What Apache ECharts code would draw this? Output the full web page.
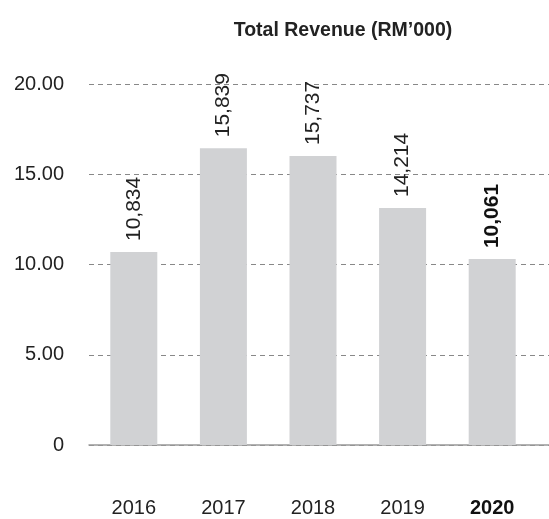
<!DOCTYPE html>
<html>
<head>
<meta charset="utf-8">
<script src="https://cdn.jsdelivr.net/npm/echarts@6/dist/echarts.min.js"></script>
<style>
  html, body { margin: 0; padding: 0; background: #fff; }
  #container { width: 549px; height: 519px; }
</style>
</head>
<body>
<div id="container"></div>
<script>
/* data */
var years = ['2016', '2017', '2018', '2019', '2020'];
var barValues = [10.69, 16.44, 16.01, 13.13, 10.30];
var barLabels = ['10,834', '15,839', '15,737', '14,214', '10,061'];
var yTicks = [0, 5, 20];   // min, interval, max

var font = 'Liberation Sans, Arial, Helvetica, sans-serif';
var lastIdx = years.length - 1;

var dom = document.getElementById('container');
var myChart = echarts.init(dom);

var option = {
    animation: false,
    title: {
        text: 'Total Revenue (RM\u2019000)',
        left: 338,
        textAlign: 'center',
        top: 16,
        textStyle: { fontFamily: font, fontSize: 19.5, fontWeight: 'bold', color: '#222' }
    },
    grid: [
        /* bars */
        { left: 89, right: 12, top: 84, bottom: 74 },
        /* gridlines + y labels, full width */
        { left: 89, right: 0, top: 84, bottom: 74 }
    ],
    xAxis: [
        {
            gridIndex: 0,
            type: 'category',
            data: years,
            axisLine: { show: false },
            axisTick: { show: false },
            axisLabel: {
                interval: 0,
                margin: 53,
                fontFamily: font,
                fontSize: 20,
                color: '#222',
                formatter: function (v, i) {
                    return i === lastIdx ? '{b|' + v + '}' : v;
                },
                rich: { b: { fontFamily: font, fontSize: 20, fontWeight: 'bold', color: '#111' } }
            }
        },
        {
            gridIndex: 1,
            type: 'value',
            min: 0, max: 1,
            axisLine: { show: true, lineStyle: { color: '#999', width: 1.5 } },
            axisTick: { show: false },
            axisLabel: { show: false },
            splitLine: { show: false }
        }
    ],
    yAxis: [
        {
            gridIndex: 0,
            type: 'value',
            min: yTicks[0], max: yTicks[2], interval: yTicks[1],
            axisLine: { show: false },
            axisTick: { show: false },
            axisLabel: { show: false },
            splitLine: { show: false }
        },
        {
            gridIndex: 1,
            type: 'value',
            min: yTicks[0], max: yTicks[2], interval: yTicks[1],
            axisLine: { show: false },
            axisTick: { show: false },
            axisLabel: {
                margin: 25,
                fontFamily: font,
                fontSize: 20,
                color: '#222',
                formatter: function (v) { return v === 0 ? '0' : v.toFixed(2); }
            },
            splitLine: { lineStyle: { color: '#888', type: [5, 4], width: 1 } }
        }
    ],
    series: [
        {
            type: 'bar',
            xAxisIndex: 0,
            yAxisIndex: 0,
            barWidth: 47,
            itemStyle: { color: '#d1d2d4' },
            data: barValues.map(function (v, i) {
                return {
                    value: v,
                    label: {
                        fontWeight: i === lastIdx ? 'bold' : 'normal',
                        color: i === lastIdx ? '#111' : '#222'
                    }
                };
            }),
            label: {
                show: true,
                position: 'top',
                rotate: 90,
                align: 'left',
                verticalAlign: 'middle',
                distance: 11,
                fontFamily: font,
                fontSize: 21,
                formatter: function (p) { return barLabels[p.dataIndex]; }
            }
        }
    ]
};

if (option && typeof option === 'object') {
    myChart.setOption(option, true);
}
</script>
</body>
</html>
